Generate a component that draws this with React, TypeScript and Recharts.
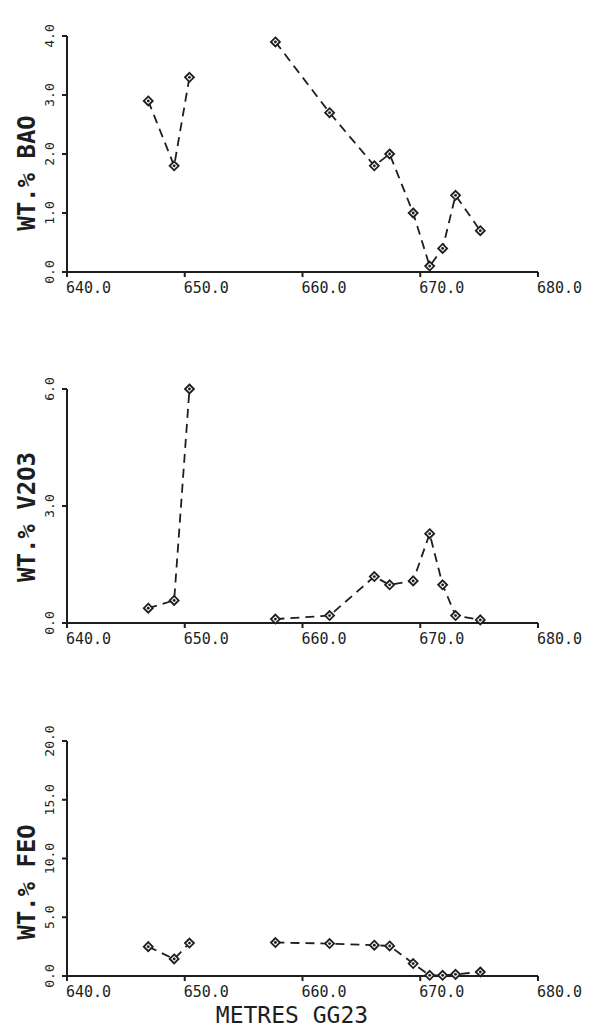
import { LineChart, Line, XAxis, YAxis } from 'recharts'

// sample depths down hole GG23 (m)
const depths = [646.9, 649.1, 650.4, 657.7, 662.3, 666.1, 667.4, 669.4, 670.8, 671.9, 673.0, 675.1]
// no samples between 650.4 and 657.7, so the trace is broken after index 2
const gapAfter = 2

const bao = [2.9, 1.8, 3.3, 3.9, 2.7, 1.8, 2.0, 1.0, 0.1, 0.4, 1.3, 0.7]
const v2o3 = [0.38, 0.58, 6.0, 0.1, 0.19, 1.19, 0.98, 1.08, 2.29, 0.98, 0.19, 0.08]
const feo = [2.5, 1.45, 2.8, 2.85, 2.76, 2.62, 2.56, 1.06, 0.06, 0.06, 0.14, 0.34]

const depthTicks = [640, 650, 660, 670, 680]
const baoTicks = [0, 1, 2, 3, 4]
const v2o3Ticks = [0, 3, 6]
const feoTicks = [0, 5, 10, 15, 20]

const INK = '#1e1e1e'
const MONO = '"DejaVu Sans Mono", monospace'

type Pt = { depth: number; value: number }

function segments(values: number[]): Pt[][] {
  const pts = depths.map((d, i) => ({ depth: d, value: values[i] }))
  return [pts.slice(0, gapAfter + 1), pts.slice(gapAfter + 1)]
}

function Diamond(props: any) {
  const { cx, cy } = props
  if (cx == null || cy == null) return <g />
  const r = 4.5
  return (
    <g>
      <polygon
        points={`${cx},${cy - r} ${cx + r},${cy} ${cx},${cy + r} ${cx - r},${cy}`}
        fill="#f4f4f4"
        stroke={INK}
        strokeWidth={1.8}
      />
      <circle cx={cx} cy={cy} r={1.4} fill={INK} />
    </g>
  )
}

function DepthTick({ x, y, payload }: any) {
  return (
    <text x={x - 1} y={y + 16} fontFamily={MONO} fontSize={15} fill={INK} textAnchor="start">
      {Number(payload.value).toFixed(1)}
    </text>
  )
}

function ValueTick({ x, y, payload }: any) {
  const tx = x - 8
  return (
    <text
      x={tx}
      y={y}
      transform={`rotate(-90 ${tx} ${y})`}
      fontFamily={MONO}
      fontSize={13}
      fill={INK}
      textAnchor="middle"
    >
      {Number(payload.value).toFixed(1)}
    </text>
  )
}

type PanelProps = {
  top: number
  height: number
  plotTop: number
  axisHeight: number
  values: number[]
  ticks: number[]
  title: string
  titleY: number
  xTitle?: string
}

function Panel({ top, height, plotTop, axisHeight, values, ticks, title, titleY, xTitle }: PanelProps) {
  const [a, b] = segments(values)
  const max = ticks[ticks.length - 1]
  return (
    <div style={{ position: 'absolute', left: 0, top }}>
      <LineChart width={596} height={height} margin={{ top: plotTop, right: 58, left: 0, bottom: 0 }}>
        <XAxis
          type="number"
          dataKey="depth"
          domain={[640, 680]}
          ticks={depthTicks}
          height={axisHeight}
          tickSize={5}
          tickMargin={0}
          axisLine={{ stroke: INK, strokeWidth: 2 }}
          tickLine={{ stroke: INK, strokeWidth: 2 }}
          tick={<DepthTick />}
          label={
            xTitle
              ? {
                  content: () => (
                    <text x={292} y={height - 7} fontFamily={MONO} fontSize={23} fill={INK} textAnchor="middle">
                      {xTitle}
                    </text>
                  ),
                }
              : undefined
          }
        />
        <YAxis
          type="number"
          dataKey="value"
          domain={[0, max]}
          ticks={ticks}
          width={67}
          tickSize={5}
          tickMargin={0}
          axisLine={{ stroke: INK, strokeWidth: 2 }}
          tickLine={{ stroke: INK, strokeWidth: 2 }}
          tick={<ValueTick />}
          label={{
            content: () => (
              <text
                x={35}
                y={titleY}
                transform={`rotate(-90 35 ${titleY})`}
                fontFamily={MONO}
                fontSize={24}
                fontWeight="bold"
                fill={INK}
                textAnchor="middle"
              >
                {title}
              </text>
            ),
          }}
        />
        {[a, b].map((seg, i) => (
          <Line
            key={i}
            data={seg}
            dataKey="value"
            type="linear"
            stroke={INK}
            strokeWidth={1.8}
            strokeDasharray="9 6"
            dot={<Diamond />}
            activeDot={false}
            isAnimationActive={false}
          />
        ))}
      </LineChart>
    </div>
  )
}

export default function App() {
  return (
    <div style={{ position: 'absolute', left: 0, top: 0, width: 596, height: 1030, background: '#fff' }}>
      <Panel top={0} height={310} plotTop={36} axisHeight={38} values={bao} ticks={baoTicks} title="WT.% BAO" titleY={173} />
      <Panel top={350} height={311} plotTop={39} axisHeight={38} values={v2o3} ticks={v2o3Ticks} title="WT.% V2O3" titleY={167} />
      <Panel
        top={700}
        height={330}
        plotTop={41}
        axisHeight={54}
        values={feo}
        ticks={feoTicks}
        title="WT.% FEO"
        titleY={182}
        xTitle="METRES GG23"
      />
    </div>
  )
}
